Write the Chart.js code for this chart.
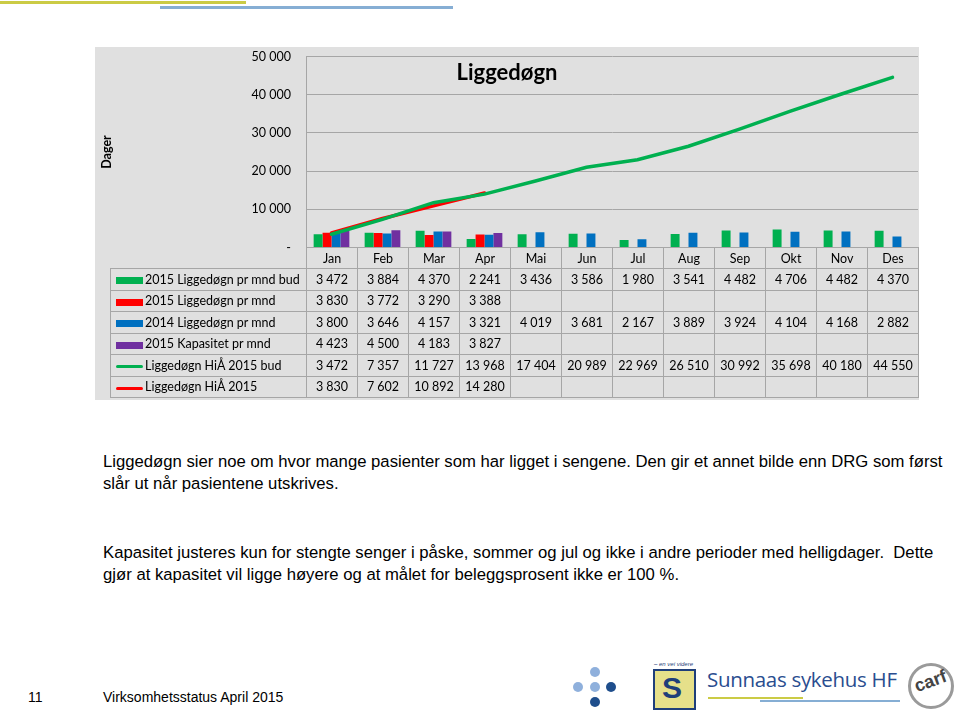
<!DOCTYPE html>
<html>
<head>
<meta charset="utf-8">
<script src="https://cdn.jsdelivr.net/npm/chart.js@4.4.1/dist/chart.umd.min.js"></script>
<style>
  html, body { margin:0; padding:0; background:#fff; }
  body { width:960px; height:710px; position:relative; overflow:hidden; font-family:"Liberation Sans", Arial, sans-serif; }
  .abs { position:absolute; }
  #panel { left:95px; top:47px; width:824px; height:353px; background:#e0e0e0; }
  #chartWrap { left:95px; top:34px; width:824px; height:236px; }
  #chartWrap canvas { display:block; }
  #title { left:407px; width:200px; top:58px; text-align:center; font-family:Lato, "Open Sans", sans-serif; font-weight:bold; font-size:22px; color:#000; }
  #tbl { left:110px; top:247px; border-collapse:collapse; table-layout:fixed; font-family:Lato, "Open Sans", sans-serif; font-size:12.5px; color:#000; }
  #tbl td { border:1px solid #a6a6a6; text-align:center; padding:0; white-space:nowrap; overflow:hidden; }
  #tbl tr.hdr td { height:20px; }
  #tbl tr.row td { height:20.5px; }
  #tbl td.blank { border:none; border-bottom:1px solid #a6a6a6; }
  #tbl td.lg { text-align:left; padding-left:5px; }
  .key { display:inline-block; width:27px; vertical-align:middle; margin-right:2px; }
  .txt { font-size:16.7px; color:#000; left:103px; line-height:22px; white-space:nowrap; }
</style>
</head>
<body>
<div class="abs" style="left:0;top:1px;width:246px;height:3px;background:#cbcb45;"></div>
<div class="abs" style="left:160px;top:6px;width:293px;height:3px;background:#86aed4;"></div>

<div id="panel" class="abs"></div>
<div id="chartWrap" class="abs"><canvas id="c" width="824" height="236"></canvas></div>
<div id="title" class="abs">Liggedøgn</div>
<table id="tbl" class="abs"></table>

<div class="abs txt" style="top:451px;">Liggedøgn sier noe om hvor mange pasienter som har ligget i sengene. Den gir et annet bilde enn DRG som først<br>slår ut når pasientene utskrives.</div>
<div class="abs txt" style="top:542px;">Kapasitet justeres kun for stengte senger i påske, sommer og jul og ikke i andre perioder med helligdager.&nbsp; Dette<br>gjør at kapasitet vil ligge høyere og at målet for beleggsprosent ikke er 100 %.</div>

<div class="abs" style="left:28px;top:689px;font-size:14px;">11</div>
<div class="abs" style="left:103px;top:689px;font-size:14px;">Virksomhetsstatus April 2015</div>

<!-- logos (approximate) -->
<div class="abs" style="left:590px;top:667px;width:10px;height:10px;border-radius:50%;background:#8fb0dc;"></div>
<div class="abs" style="left:573px;top:682px;width:10px;height:10px;border-radius:50%;background:#8fb0dc;"></div>
<div class="abs" style="left:590px;top:682px;width:10px;height:10px;border-radius:50%;background:#8fb0dc;"></div>
<div class="abs" style="left:606px;top:682px;width:10px;height:10px;border-radius:50%;background:#1f4e8c;"></div>
<div class="abs" style="left:590px;top:697px;width:10px;height:10px;border-radius:50%;background:#1f4e8c;"></div>
<div class="abs" style="left:654px;top:661px;font-size:6px;font-style:italic;color:#1f3f7a;">– en vei videre</div>
<div class="abs" style="left:653px;top:669px;width:39px;height:37px;border:2px solid #1f3f7a;background:#e6e08a;"></div>
<div class="abs" style="left:662px;top:673px;font-size:30px;font-weight:bold;line-height:30px;color:#1f3f7a;">S</div>
<div class="abs" style="left:707px;top:665px;font-size:20.5px;color:#2a4d8f;font-family:'Open Sans',sans-serif;letter-spacing:-0.3px;">Sunnaas sykehus HF</div>
<div class="abs" style="left:708px;top:697px;width:95px;height:2px;background:#cbcb45;"></div>
<div class="abs" style="left:760px;top:700px;width:140px;height:2px;background:#86aed4;"></div>
<div class="abs" style="left:908px;top:663px;width:40px;height:40px;border-radius:50%;border:3px solid #9a9a9a;"></div>
<div class="abs" style="left:914px;top:671px;font-size:18px;font-weight:bold;color:#444;transform:rotate(-20deg);">carf</div>

<script>
const months = ['Jan','Feb','Mar','Apr','Mai','Jun','Jul','Aug','Sep','Okt','Nov','Des'];
const bud2015Mnd = [3472,3884,4370,2241,3436,3586,1980,3541,4482,4706,4482,4370];
const act2015Mnd = [3830,3772,3290,3388,null,null,null,null,null,null,null,null];
const act2014Mnd = [3800,3646,4157,3321,4019,3681,2167,3889,3924,4104,4168,2882];
const kap2015Mnd = [4423,4500,4183,3827,null,null,null,null,null,null,null,null];
const cumBud2015 = [3472,7357,11727,13968,17404,20989,22969,26510,30992,35698,40180,44550];
const cumAct2015 = [3830,7602,10892,14280,null,null,null,null,null,null,null,null];
const yMax = 50000, yStep = 10000;

const fmt = v => v == null ? '' : String(v).replace(/\B(?=(\d{3})+(?!\d))/g, ' ');

const series = [
  {label:'2015 Liggedøgn pr mnd bud', data:bud2015Mnd, color:'#00b050', type:'bar'},
  {label:'2015 Liggedøgn pr mnd', data:act2015Mnd, color:'#ff0000', type:'bar'},
  {label:'2014 Liggedøgn pr mnd', data:act2014Mnd, color:'#0070c0', type:'bar'},
  {label:'2015 Kapasitet pr mnd', data:kap2015Mnd, color:'#7030a0', type:'bar'},
  {label:'Liggedøgn HiÅ 2015 bud', data:cumBud2015, color:'#00b050', type:'line'},
  {label:'Liggedøgn HiÅ 2015', data:cumAct2015, color:'#ff0000', type:'line'}
];

// data table
const tbl = document.getElementById('tbl');
let html = '<colgroup><col style="width:196px">' + months.map(()=>'<col style="width:51px">').join('') + '</colgroup>';
html += '<tr class="hdr"><td class="blank"></td>' + months.map(m=>'<td>'+m+'</td>').join('') + '</tr>';
series.forEach(s => {
  const key = s.type === 'bar'
    ? '<span class="key" style="height:7px;background:'+s.color+'"></span>'
    : '<span class="key" style="height:3px;border-radius:2px;background:'+s.color+'"></span>';
  html += '<tr class="row"><td class="lg">' + key + s.label + '</td>' + s.data.map(v=>'<td>'+fmt(v)+'</td>').join('') + '</tr>';
});
tbl.innerHTML = html;

new Chart(document.getElementById('c'), {
  data: {
    labels: months,
    datasets: series.map(s => s.type === 'bar'
      ? {type:'bar', label:s.label, data:s.data, backgroundColor:s.color, borderWidth:0, order:2, categoryPercentage:0.7, barPercentage:1}
      : {type:'line', label:s.label, data:s.data, borderColor:s.color, backgroundColor:s.color, borderWidth:3.5, pointRadius:0, tension:0, borderCapStyle:'round', order:1, spanGaps:false})
  },
  options: {
    responsive:false,
    animation:false,
    layout:{padding:{top:9, bottom:15, left:0, right:1}},
    plugins:{legend:{display:false}, tooltip:{enabled:false}, title:{display:false}},
    scales:{
      x:{display:false, offset:true},
      y:{
        min:0, max:yMax,
        afterFit: a => { a.width = 211; },
        ticks:{stepSize:yStep, padding:15, color:'#000', font:{family:'Lato', size:12.5}, callback:v => v === 0 ? '-' : fmt(v)},
        grid:{color:'#a6a6a6', drawTicks:false, lineWidth:1},
        border:{display:true, color:'#a6a6a6'},
        title:{display:true, text:'Dager', color:'#000', font:{family:'Lato', size:12.5, weight:'bold'}, padding:{top:4, bottom:0}}
      }
    }
  }
});
</script>
</body>
</html>
